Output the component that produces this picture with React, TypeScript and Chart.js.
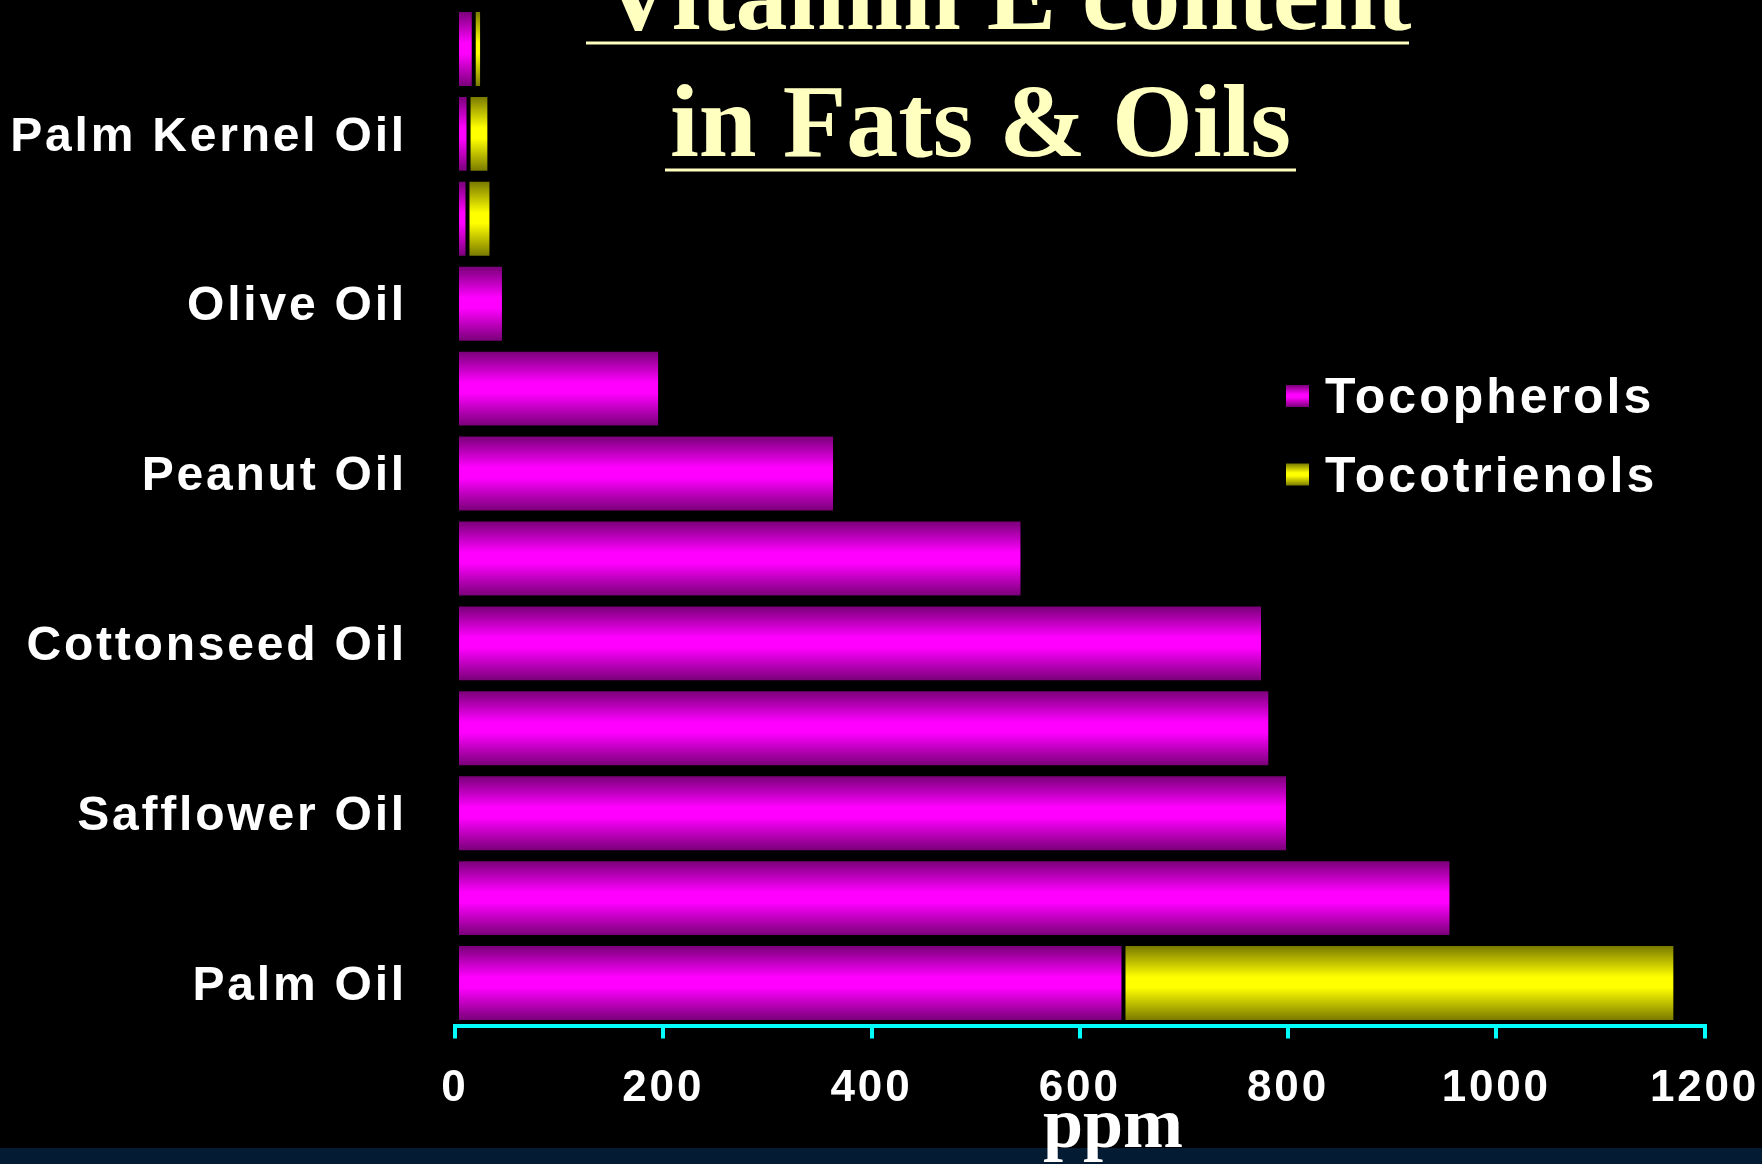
import { useEffect, useRef } from "react";
import { Chart, registerables } from "chart.js";

Chart.register(...registerables);

// Oils, listed top to bottom on the category axis
const oils = [
  "Butter",
  "Palm Kernel Oil",
  "Coconut Oil",
  "Olive Oil",
  "Rapeseed Oil",
  "Peanut Oil",
  "Sunflower Oil",
  "Cottonseed Oil",
  "Corn Oil",
  "Safflower Oil",
  "Soybean Oil",
  "Palm Oil",
];

// ppm
const tocopherols = [18, 13, 12, 47, 197, 365, 545, 776, 783, 800, 957, 642];
const tocotrienols = [8, 20, 23, 0, 0, 0, 0, 0, 0, 0, 0, 530];

const seriesNames = ["Tocopherols", "Tocotrienols"];
const xTicks = [0, 200, 400, 600, 800, 1000, 1200];

const titleLines = ["Vitamin E content", "in Fats & Oils"];
const axisTitle = "ppm";

// dark edge -> bright centre -> dark edge
const MAGENTA = ["#7a0079", "#ff00ff", "#ff00ff", "#7a0079"];
const YELLOW = ["#7a7a00", "#ffff00", "#ffff00", "#7a7a00"];
const STOP_POS = [0, 0.42, 0.56, 1];

const BAR_PCT = 0.918;
const BORDER = 2;
const SPACING = "2.8px";

function fillGradient(ctx: CanvasRenderingContext2D, top: number, bottom: number, colors: string[]) {
  const g = ctx.createLinearGradient(0, top, 0, bottom);
  colors.forEach((c, i) => g.addColorStop(STOP_POS[i], c));
  return g;
}

function barColor(colors: string[]) {
  return (c: any) => {
    const chart = c.chart;
    const y = chart.scales && chart.scales.y;
    if (!y || !chart.chartArea || c.dataIndex === undefined) return colors[1];
    const centre = y.getPixelForValue(c.dataIndex);
    const band = Math.abs(y.getPixelForValue(1) - y.getPixelForValue(0));
    const half = (band * BAR_PCT) / 2 - BORDER;
    return fillGradient(chart.ctx, centre - half, centre + half, colors);
  };
}

function noOverflow(scale: any) {
  scale.paddingTop = 0;
  scale.paddingBottom = 0;
  scale.paddingLeft = 0;
  scale.paddingRight = 0;
}

const backdrop = {
  id: "backdrop",
  beforeDraw(chart: any) {
    const ctx = chart.ctx as CanvasRenderingContext2D;
    ctx.save();
    ctx.fillStyle = "#000000";
    ctx.fillRect(0, 0, chart.width, chart.height);
    ctx.fillStyle = "#031b33";
    ctx.fillRect(0, 1148, chart.width, chart.height - 1148);
    ctx.restore();
    (ctx as any).letterSpacing = SPACING;
  },
};

const overlay = {
  id: "overlay",
  afterDraw(chart: any) {
    const ctx = chart.ctx as CanvasRenderingContext2D;
    ctx.save();
    (ctx as any).letterSpacing = "0px";

    // title
    ctx.fillStyle = "#ffffc0";
    ctx.font = "bold 104px 'Liberation Serif'";
    ctx.textAlign = "center";
    ctx.textBaseline = "alphabetic";
    ctx.fillText(titleLines[0], 1006, 29);
    ctx.fillRect(586, 41.5, 823, 3);
    ctx.fillText(titleLines[1], 980.5, 156);
    ctx.fillRect(665, 168.5, 631, 3);

    // axis title
    ctx.fillStyle = "#ffffff";
    ctx.font = "bold 72px 'Liberation Serif'";
    ctx.fillText(axisTitle, 1113, 1147);

    // legend
    (ctx as any).letterSpacing = "3px";
    ctx.font = "bold 50px 'Liberation Sans'";
    ctx.textAlign = "left";
    const palettes = [MAGENTA, YELLOW];
    chart.data.datasets.forEach((ds: any, i: number) => {
      const by = 385 + i * 78.5;
      ctx.fillStyle = fillGradient(ctx, by, by + 22, palettes[i]);
      ctx.fillRect(1286, by, 23, 22);
      ctx.fillStyle = "#ffffff";
      ctx.fillText(ds.label, 1325, 413.3 + i * 78.5);
    });
    ctx.restore();
  },
};

export default function App() {
  const ref = useRef<HTMLCanvasElement | null>(null);

  useEffect(() => {
    document.body.style.margin = "0";
    document.body.style.background = "#000";
    const canvas = ref.current;
    if (!canvas) return;

    const chart = new Chart(canvas, {
      type: "bar",
      data: {
        labels: oils,
        datasets: [
          {
            label: seriesNames[0],
            data: tocopherols,
            backgroundColor: barColor(MAGENTA),
            borderColor: "#000000",
            borderWidth: BORDER,
            borderSkipped: false,
          },
          {
            label: seriesNames[1],
            data: tocotrienols,
            backgroundColor: barColor(YELLOW),
            borderColor: "#000000",
            borderWidth: BORDER,
            borderSkipped: false,
          },
        ],
      },
      options: {
        indexAxis: "y",
        responsive: false,
        animation: false,
        devicePixelRatio: 1,
        datasets: { bar: { categoryPercentage: 1, barPercentage: BAR_PCT } },
        layout: { padding: { left: 0, right: 57.5, top: 6.5, bottom: 38.5 } },
        plugins: {
          legend: { display: false },
          title: { display: false },
          tooltip: { enabled: false },
        },
        scales: {
          x: {
            stacked: true,
            min: xTicks[0],
            max: xTicks[xTicks.length - 1],
            afterBuildTicks(scale: any) {
              scale.ticks = xTicks.map((v) => ({ value: v }));
            },
            ticks: {
              color: "#ffffff",
              font: { family: "'Liberation Sans'", weight: "bold", size: 44 },
              padding: 24,
              maxRotation: 0,
              autoSkip: false,
              callback: (value: any) => String(value),
            },
            grid: {
              display: true,
              drawOnChartArea: false,
              drawTicks: true,
              tickLength: 13,
              color: "#00ffff",
              lineWidth: 4,
            },
            border: { display: true, color: "#00ffff", width: 4 },
            afterFit(scale: any) {
              scale.height = 100;
              noOverflow(scale);
            },
          },
          y: {
            stacked: true,
            grid: { display: false, drawTicks: false },
            border: { display: false },
            ticks: {
              color: "#ffffff",
              font: { family: "'Liberation Sans'", weight: "bold", size: 48 },
              padding: 48,
              labelOffset: 3.5,
              autoSkip: false,
              callback(this: any, value: any, index: number) {
                return index % 2 === 1 ? this.getLabelForValue(value) : "";
              },
            },
            afterFit(scale: any) {
              scale.width = 455;
              noOverflow(scale);
            },
          },
        },
      } as any,
      plugins: [backdrop, overlay],
    });

    return () => chart.destroy();
  }, []);

  return (
    <div style={{ width: 1762, height: 1164, background: "#000" }}>
      <canvas ref={ref} width={1762} height={1164} style={{ display: "block" }} />
    </div>
  );
}
